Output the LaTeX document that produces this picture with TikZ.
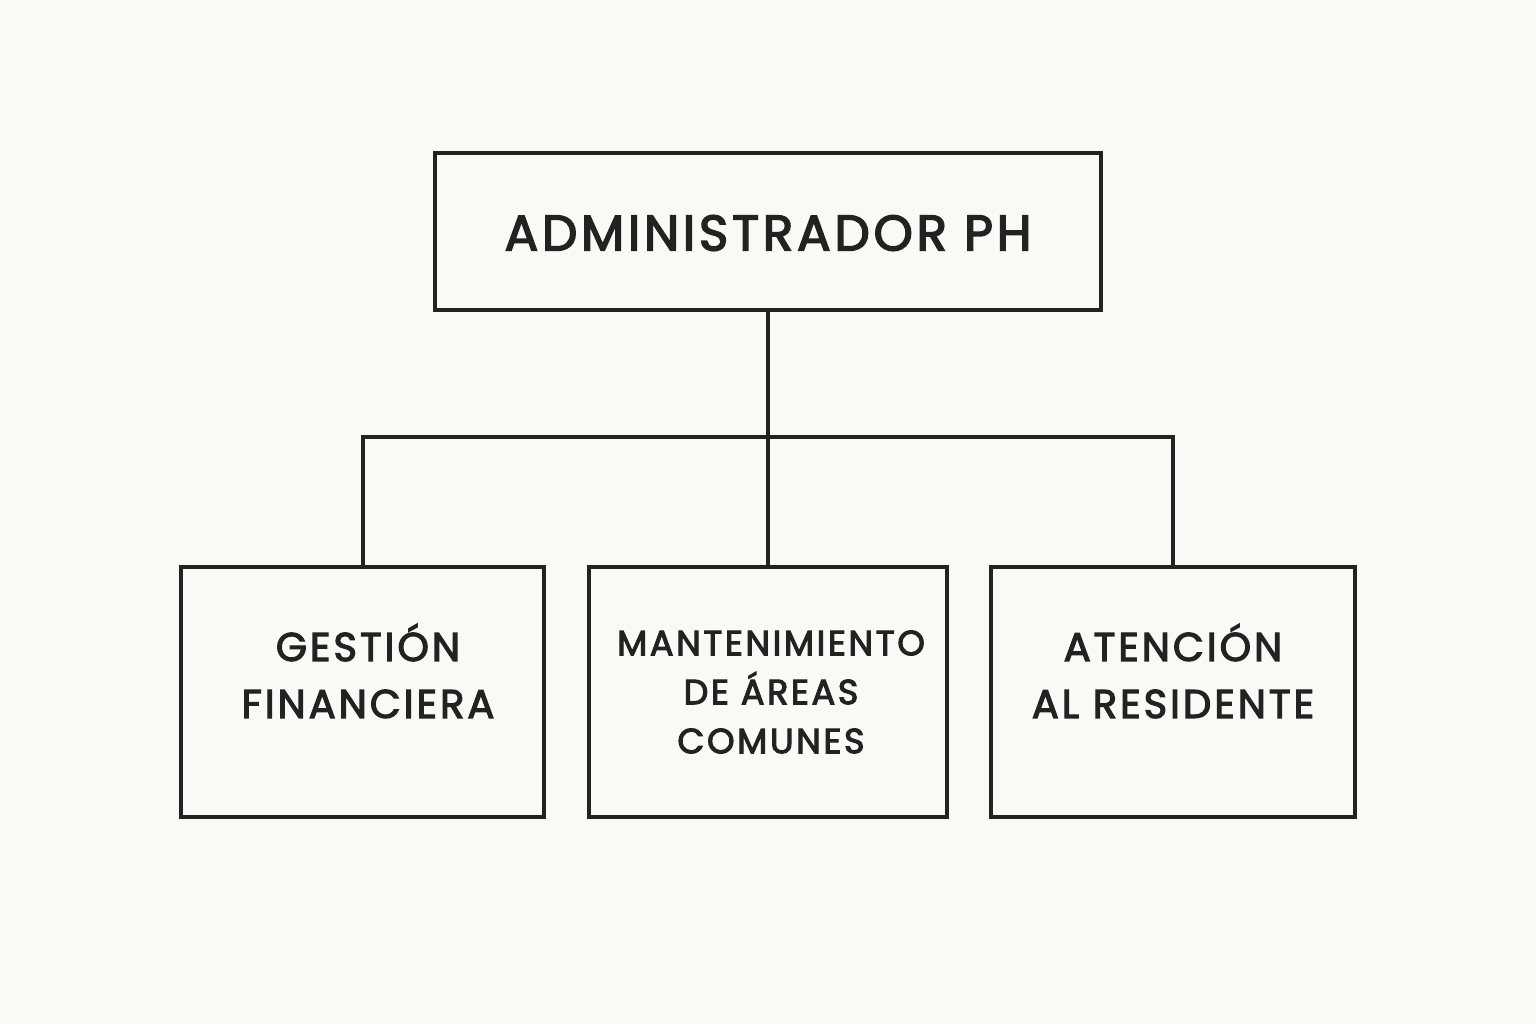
\documentclass[tikz,border=0pt]{standalone}
\usepackage{fontspec}
\setmainfont{Poppins}[LetterSpace=7.5,FakeBold=3]
\definecolor{bg}{HTML}{FAF9F6}
\definecolor{ink}{HTML}{222222}
\begin{document}
\begin{tikzpicture}[x=0.5pt,y=-0.5pt,
  box/.style={draw=ink,line width=2pt,inner sep=0pt},
  conn/.style={draw=ink,line width=2pt},
  txt/.style={text=ink,align=center,font=\fontsize{20}{28}\selectfont}]
\fill[bg] (0,0) rectangle (1536,1024);
\useasboundingbox (0,0) rectangle (1536,1024);
\node[box,minimum width=333pt,minimum height=78.5pt] (top) at (768,231.5) {};
\node[text=ink,font=\fontsize{25}{30}\selectfont] (toptxt) at (768,233) {ADMINISTRADOR PH};
\node[box,minimum width=181.5pt,minimum height=125pt] (b1) at (362.5,692) {};
\node[box,minimum width=179pt,minimum height=125pt] (b2) at (768,692) {};
\node[box,minimum width=182pt,minimum height=125pt] (b3) at (1173,692) {};
\node[txt,font=\fontsize{20}{28.5}\selectfont] (t1) at (368,671) {GESTIÓN\\FINANCIERA};
\node[txt,font=\fontsize{17.5}{24.5}\selectfont] (t2) at (771,692) {MANTENIMIENTO\\DE ÁREAS\\COMUNES};
\node[txt,font=\fontsize{20}{28.5}\selectfont] (t3) at (1173,671) {ATENCIÓN\\AL RESIDENTE};
\coordinate (j) at (768,437);
\coordinate (jl) at (363,437);
\coordinate (jr) at (1173,437);
\draw[conn] (top.south) -- (j) -- (b2.north);
\draw[conn,line cap=rect] (jl) -- (jr);
\draw[conn] (jl) -- (jl |- b1.north);
\draw[conn] (jr) -- (jr |- b3.north);
\end{tikzpicture}
\end{document}
